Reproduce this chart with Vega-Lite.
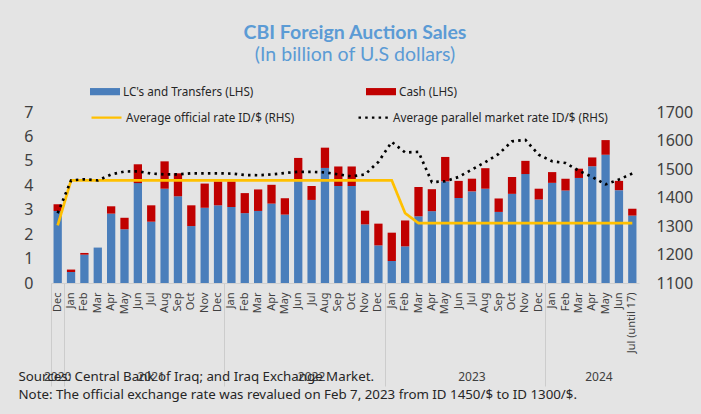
{
  "$schema": "https://vega.github.io/schema/vega-lite/v6.json",
  "width": 588,
  "height": 171,
  "autosize": {"type": "none"},
  "padding": {"left": 51, "top": 112, "right": 62, "bottom": 131},
  "background": "#e4e4e4",
  "config": {
    "view": {"stroke": null},
    "font": "Noto Sans",
    "axis": {"grid": false, "labelColor": "#404040"}
  },
  "title": {
    "text": "CBI Foreign Auction Sales",
    "subtitle": "(In billion of U.S dollars)",
    "anchor": "middle",
    "font": "Lato",
    "fontSize": 19.5,
    "fontWeight": "bold",
    "color": "#5b9bd5",
    "subtitleFont": "Lato",
    "subtitleFontSize": 19.5,
    "subtitleColor": "#5b9bd5",
    "subtitlePadding": 3,
    "offset": 11,
    "dx": 10
  },
  "data": {
    "values": [
      {"m": "2020-12", "LC": 2.95, "Cash": 0.27, "Official": 1302, "Parallel": 1345},
      {"m": "2021-01", "LC": 0.45, "Cash": 0.10, "Official": 1460, "Parallel": 1460},
      {"m": "2021-02", "LC": 1.16, "Cash": 0.07, "Official": 1460, "Parallel": 1464},
      {"m": "2021-03", "LC": 1.45, "Cash": 0, "Official": 1460, "Parallel": 1460},
      {"m": "2021-04", "LC": 2.84, "Cash": 0.30, "Official": 1460, "Parallel": 1481},
      {"m": "2021-05", "LC": 2.20, "Cash": 0.47, "Official": 1460, "Parallel": 1491},
      {"m": "2021-06", "LC": 4.09, "Cash": 0.77, "Official": 1460, "Parallel": 1492},
      {"m": "2021-07", "LC": 2.51, "Cash": 0.67, "Official": 1460, "Parallel": 1484},
      {"m": "2021-08", "LC": 3.86, "Cash": 1.12, "Official": 1460, "Parallel": 1481},
      {"m": "2021-09", "LC": 3.55, "Cash": 0.94, "Official": 1460, "Parallel": 1481},
      {"m": "2021-10", "LC": 2.33, "Cash": 0.85, "Official": 1460, "Parallel": 1485},
      {"m": "2021-11", "LC": 3.08, "Cash": 0.99, "Official": 1460, "Parallel": 1485},
      {"m": "2021-12", "LC": 3.18, "Cash": 0.98, "Official": 1460, "Parallel": 1485},
      {"m": "2022-01", "LC": 3.11, "Cash": 1.05, "Official": 1460, "Parallel": 1484},
      {"m": "2022-02", "LC": 2.86, "Cash": 0.82, "Official": 1460, "Parallel": 1479},
      {"m": "2022-03", "LC": 2.95, "Cash": 0.88, "Official": 1460, "Parallel": 1478},
      {"m": "2022-04", "LC": 3.25, "Cash": 0.77, "Official": 1460, "Parallel": 1481},
      {"m": "2022-05", "LC": 2.80, "Cash": 0.67, "Official": 1460, "Parallel": 1486},
      {"m": "2022-06", "LC": 4.17, "Cash": 0.95, "Official": 1460, "Parallel": 1490},
      {"m": "2022-07", "LC": 3.40, "Cash": 0.57, "Official": 1460, "Parallel": 1490},
      {"m": "2022-08", "LC": 4.71, "Cash": 0.83, "Official": 1460, "Parallel": 1488},
      {"m": "2022-09", "LC": 3.97, "Cash": 0.80, "Official": 1460, "Parallel": 1481},
      {"m": "2022-10", "LC": 3.97, "Cash": 0.80, "Official": 1460, "Parallel": 1474},
      {"m": "2022-11", "LC": 2.40, "Cash": 0.56, "Official": 1460, "Parallel": 1481},
      {"m": "2022-12", "LC": 1.54, "Cash": 0.89, "Official": 1460, "Parallel": 1525},
      {"m": "2023-01", "LC": 0.90, "Cash": 1.16, "Official": 1460, "Parallel": 1595},
      {"m": "2023-02", "LC": 1.50, "Cash": 1.06, "Official": 1345, "Parallel": 1558},
      {"m": "2023-03", "LC": 2.73, "Cash": 1.20, "Official": 1310, "Parallel": 1560},
      {"m": "2023-04", "LC": 2.94, "Cash": 0.90, "Official": 1310, "Parallel": 1454},
      {"m": "2023-05", "LC": 4.16, "Cash": 1.00, "Official": 1310, "Parallel": 1457},
      {"m": "2023-06", "LC": 3.48, "Cash": 0.70, "Official": 1310, "Parallel": 1472},
      {"m": "2023-07", "LC": 3.75, "Cash": 0.52, "Official": 1310, "Parallel": 1498},
      {"m": "2023-08", "LC": 3.86, "Cash": 0.84, "Official": 1310, "Parallel": 1524},
      {"m": "2023-09", "LC": 2.91, "Cash": 0.55, "Official": 1310, "Parallel": 1553},
      {"m": "2023-10", "LC": 3.65, "Cash": 0.69, "Official": 1310, "Parallel": 1597},
      {"m": "2023-11", "LC": 4.46, "Cash": 0.54, "Official": 1310, "Parallel": 1602},
      {"m": "2023-12", "LC": 3.42, "Cash": 0.44, "Official": 1310, "Parallel": 1550},
      {"m": "2024-01", "LC": 4.10, "Cash": 0.44, "Official": 1310, "Parallel": 1527},
      {"m": "2024-02", "LC": 3.79, "Cash": 0.48, "Official": 1310, "Parallel": 1521},
      {"m": "2024-03", "LC": 4.30, "Cash": 0.38, "Official": 1310, "Parallel": 1494},
      {"m": "2024-04", "LC": 4.78, "Cash": 0.36, "Official": 1310, "Parallel": 1472},
      {"m": "2024-05", "LC": 5.25, "Cash": 0.60, "Official": 1310, "Parallel": 1446},
      {"m": "2024-06", "LC": 3.80, "Cash": 0.38, "Official": 1310, "Parallel": 1463},
      {"m": "2024-07", "LC": 2.76, "Cash": 0.28, "Official": 1310, "Parallel": 1484}
    ]
  },
  "layer": [
    {
      "transform": [{"fold": ["LC", "Cash"], "as": ["type", "v"]}],
      "mark": {"type": "bar"},
      "encoding": {
        "x": {
          "field": "m",
          "type": "nominal",
          "scale": {"paddingInner": 0.38, "paddingOuter": 0.19},
          "axis": {
            "orient": "bottom",
            "title": null,
            "labelAngle": -90,
            "labelAlign": "right",
            "labelBaseline": "middle",
            "labelFontSize": 11,
            "labelPadding": 9,
            "ticks": false,
            "tickSize": 0,
            "domain": true,
            "domainColor": "#d0d0d0",
            "labelExpr": "datum.value == '2024-07' ? 'Jul (until 17)' : ['Jan','Feb','Mar','Apr','May','Jun','Jul','Aug','Sep','Oct','Nov','Dec'][toNumber(slice(datum.value, 5, 7)) - 1]"
          }
        },
        "y": {
          "field": "v",
          "type": "quantitative",
          "stack": "zero",
          "scale": {"domain": [0, 7], "nice": false},
          "axis": {
            "orient": "left",
            "title": null,
            "values": [0, 1, 2, 3, 4, 5, 6, 7],
            "labelFontSize": 16,
            "labelPadding": 18,
            "ticks": false,
            "domain": false
          }
        },
        "fill": {
          "field": "type",
          "type": "nominal",
          "scale": {"domain": ["LC", "Cash"], "range": ["#4a7ebb", "#c00000"]},
          "legend": {
            "title": null,
            "orient": "none",
            "legendX": 39,
            "legendY": -35.5,
            "direction": "horizontal",
            "columns": 2,
            "columnPadding": 112,
            "padding": 0,
            "symbolType": "M-1,-0.24H1V0.24H-1Z",
            "symbolSize": 900,
            "symbolStrokeWidth": 0,
            "labelFontSize": 11.7,
            "labelOffset": 3,
            "labelColor": "#262626",
            "labelLimit": 400,
            "labelExpr": "datum.label == 'LC' ? \"LC's and Transfers (LHS)\" : 'Cash (LHS)'"
          }
        },
        "order": {"field": "type", "sort": "descending"}
      }
    },
    {
      "transform": [{"fold": ["Official", "Parallel"], "as": ["series", "r"]}],
      "mark": {"type": "line", "strokeWidth": 2.7},
      "encoding": {
        "x": {
          "field": "m",
          "type": "nominal",
          "axis": {
            "orient": "bottom",
            "title": ["Sources: Central Bank of Iraq; and Iraq Exchange Market.", "Note: The official exchange rate was revalued on Feb 7, 2023 from ID 1450/$ to ID 1300/$."],
            "titleAnchor": "start",
            "titleAlign": "left",
            "titleX": -33,
            "titleY": 86,
            "titleBaseline": "top",
            "titleFontSize": 13.3,
            "titleFontWeight": "normal",
            "titleColor": "#262626",
            "titleLineHeight": 18,
            "bandPosition": -0.3,
            "values": ["2020-12", "2021-01", "2021-07", "2022-01", "2022-07", "2023-01", "2023-07", "2024-01", "2024-04"],
            "labelExpr": "datum.value == '2020-12' ? '2020' : datum.value == '2021-07' ? '2021' : datum.value == '2022-07' ? '2022' : datum.value == '2023-07' ? '2023' : datum.value == '2024-04' ? '2024' : ''",
            "labelAngle": 0,
            "labelAlign": "center",
            "labelBaseline": "top",
            "labelFontSize": 12,
            "labelPadding": -15,
            "labelOffset": {"condition": {"test": "datum.value == '2024-04'", "value": 6.7}, "value": 0},
            "ticks": true,
            "tickSize": 103,
            "tickColor": "#cccccc",
            "tickWidth": 1,
            "tickOpacity": {"condition": {"test": "indexof(['2020-12','2021-01','2022-01','2023-01','2024-01'], datum.value) >= 0", "value": 1}, "value": 0},
            "domain": false
          }
        },
        "y": {
          "field": "r",
          "type": "quantitative",
          "scale": {"domain": [1100, 1700], "nice": false},
          "axis": {
            "orient": "right",
            "title": null,
            "format": "d",
            "values": [1100, 1200, 1300, 1400, 1500, 1600, 1700],
            "labelFontSize": 16,
            "labelPadding": 17,
            "ticks": false,
            "domain": false
          }
        },
        "stroke": {
          "field": "series",
          "type": "nominal",
          "scale": {"domain": ["Official", "Parallel"], "range": ["#ffc000", "#000000"]},
          "legend": {
            "title": null,
            "orient": "none",
            "legendX": 39,
            "legendY": -11.3,
            "direction": "horizontal",
            "columns": 2,
            "columnPadding": 59,
            "padding": 0,
            "symbolType": "stroke",
            "symbolSize": 900,
            "symbolStrokeWidth": 2.2,
            "labelFontSize": 11.7,
            "labelOffset": 3,
            "labelColor": "#262626",
            "labelLimit": 400,
            "labelExpr": "datum.label == 'Official' ? 'Average official rate ID/$ (RHS)' : 'Average parallel market rate ID/$ (RHS)'"
          }
        },
        "strokeDash": {
          "field": "series",
          "type": "nominal",
          "scale": {"domain": ["Official", "Parallel"], "range": [[1, 0], [2.5, 4.2]]},
          "legend": {
            "title": null,
            "orient": "none",
            "legendX": 39,
            "legendY": -11.3,
            "direction": "horizontal",
            "columns": 2,
            "columnPadding": 59,
            "padding": 0,
            "symbolType": "stroke",
            "symbolSize": 900,
            "symbolStrokeWidth": 2.2,
            "labelFontSize": 11.7,
            "labelOffset": 3,
            "labelColor": "#262626",
            "labelLimit": 400,
            "labelExpr": "datum.label == 'Official' ? 'Average official rate ID/$ (RHS)' : 'Average parallel market rate ID/$ (RHS)'"
          }
        }
      }
    }
  ],
  "resolve": {"scale": {"y": "independent"}, "axis": {"x": "independent"}}
}
